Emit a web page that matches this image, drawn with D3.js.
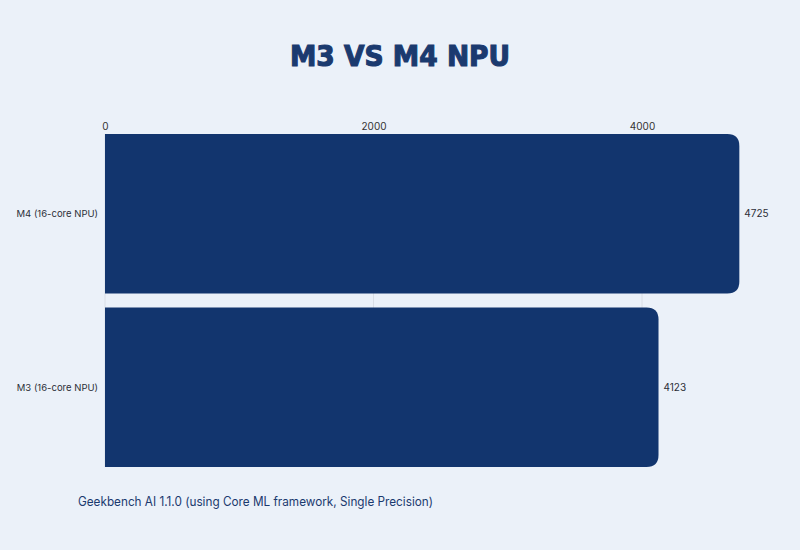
<!DOCTYPE html>
<html>
<head>
<meta charset="utf-8">
<script src="https://cdn.jsdelivr.net/npm/d3@7"></script>
<style>
  html, body { margin: 0; padding: 0; background: #ebf1f9; }
  svg { display: block; font-family: Inter, "Noto Sans", sans-serif; }
</style>
</head>
<body>
<svg id="chart"></svg>
<script>
// chart values
const categories = ['M4 (16-core NPU)', 'M3 (16-core NPU)'];
const scores = [4725, 4123];
const tickValues = [0, 2000, 4000];
const title = 'M3 VS M4 NPU';
const footnote = 'Geekbench AI 1.1.0 (using Core ML framework, Single Precision)';

const W = 800, H = 550;
const barColor = '#12356e';
const navy = '#1b3a6f';

const svg = d3.select('#chart').attr('width', W).attr('height', H);

svg.append('rect').attr('width', W).attr('height', H).attr('fill', '#ebf1f9');

// scales
const x = d3.scaleLinear().domain([0, 4000]).range([105, 642]);
const y = d3.scaleBand().domain(categories).range([134, 467]).paddingInner(0.08).paddingOuter(0);

// title, a heavy wide face
svg.append('text')
  .attr('x', 400).attr('y', 66)
  .attr('text-anchor', 'middle')
  .attr('textLength', 220)
  .attr('lengthAdjust', 'spacingAndGlyphs')
  .style('font-family', '"DejaVu Sans", sans-serif')
  .style('font-weight', 700)
  .style('font-size', '29px')
  .attr('fill', navy)
  .attr('stroke', navy)
  .attr('stroke-width', 1.2)
  .text(title);

// gridlines
svg.append('g')
  .selectAll('line')
  .data(tickValues)
  .join('line')
  .attr('x1', d => x(d)).attr('x2', d => x(d))
  .attr('y1', y.range()[0]).attr('y2', y.range()[1])
  .attr('stroke', '#d9dee6')
  .attr('stroke-width', 1);

// top axis
const axis = svg.append('g')
  .attr('transform', `translate(0,${y.range()[0] - 4})`)
  .call(d3.axisTop(x).tickValues(tickValues).tickSize(0).tickPadding(0).tickFormat(d3.format('d')));
axis.select('.domain').remove();
axis.selectAll('text')
  .style('font-size', '10px')
  .style('font-family', 'Inter, sans-serif')
  .attr('fill', '#333');

// bars with rounded right corners
const r = 12;
function barPath(d, i) {
  const x0 = x(0), x1 = x(d), y0 = y(categories[i]), h = y.bandwidth();
  return `M${x0},${y0}H${x1 - r}Q${x1},${y0} ${x1},${y0 + r}V${y0 + h - r}Q${x1},${y0 + h} ${x1 - r},${y0 + h}H${x0}Z`;
}
svg.append('g')
  .selectAll('path')
  .data(scores)
  .join('path')
  .attr('d', barPath)
  .attr('fill', barColor);

// category labels
svg.append('g')
  .selectAll('text')
  .data(categories)
  .join('text')
  .attr('x', x(0) - 7)
  .attr('y', d => y(d) + y.bandwidth() / 2)
  .attr('dy', '0.35em')
  .attr('text-anchor', 'end')
  .style('font-size', '9.5px')
  .attr('fill', '#2b2f38')
  .text(d => d);

// value labels
svg.append('g')
  .selectAll('text')
  .data(scores)
  .join('text')
  .attr('x', d => x(d) + 5)
  .attr('y', (d, i) => y(categories[i]) + y.bandwidth() / 2)
  .attr('dy', '0.35em')
  .style('font-size', '10px')
  .attr('fill', '#2b2f38')
  .text(d => d);

// footnote
svg.append('text')
  .attr('x', 78).attr('y', 506)
  .attr('textLength', 355)
  .attr('lengthAdjust', 'spacingAndGlyphs')
  .style('font-size', '12.5px')
  .attr('fill', navy)
  .text(footnote);
</script>
</body>
</html>
